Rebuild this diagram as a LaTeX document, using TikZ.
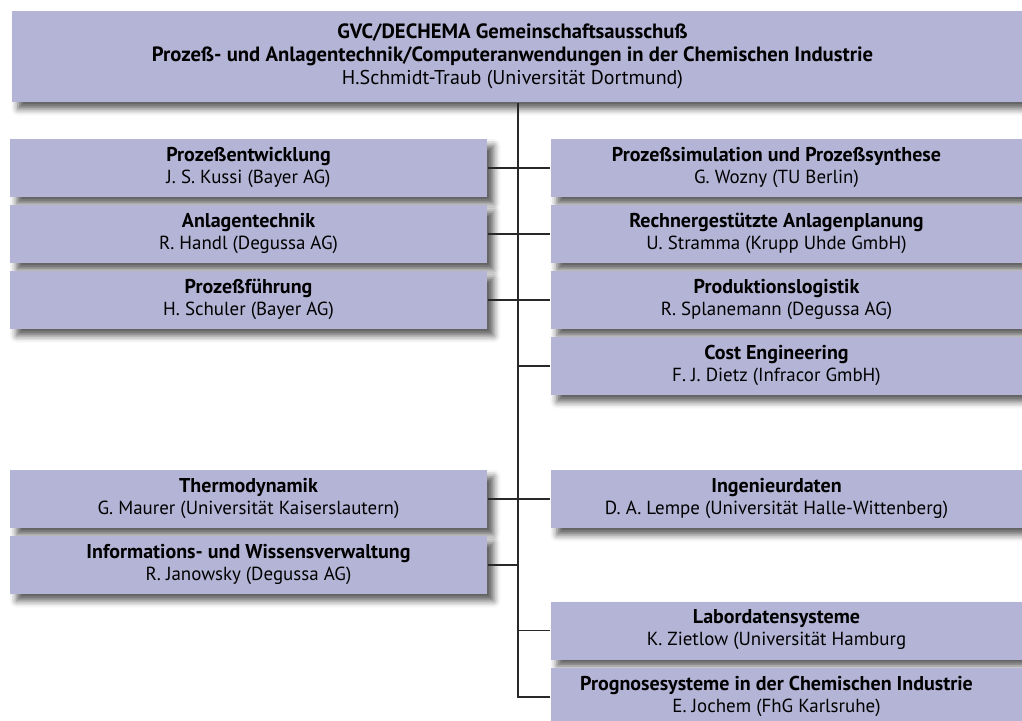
\documentclass[tikz,border=0pt]{standalone}
\usepackage{fontspec}
\setmainfont{PT Sans}
\usetikzlibrary{shadows.blur}

\definecolor{lavender}{RGB}{180,180,214}
\definecolor{spinegray}{RGB}{40,40,40}

% box text: first line bold, second regular; #1 pushes the text to the left
\newcommand{\grp}[3][0pt]{\begin{tabular}{@{}c@{}}{\fontsize{15}{16.5}\selectfont\bfseries #2}\\#3\end{tabular}\hspace*{#1}}

\tikzset{every picture/.style={line width=0.75pt}}
\tikzset{
  box/.style={fill=lavender, inner sep=0pt, minimum height=43.5pt,
    font=\fontsize{14.2}{16.5}\selectfont,
    blur shadow={shadow xshift=5pt, shadow yshift=-5pt, shadow blur radius=5pt, shadow opacity=65}},
  leftbox/.style={box, minimum width=357.75pt},
  rightbox/.style={box, minimum width=360pt, anchor=west},
  topbox/.style={box, minimum width=764.25pt, minimum height=68.25pt, anchor=west,
    font=\fontsize{15}{17.25}\selectfont},
  link/.style={draw=spinegray, line width=1pt}
}

\begin{document}
\begin{tikzpicture}[x=0.75pt,y=0.75pt,yscale=-1,xscale=1]
\useasboundingbox (0,0) rectangle (1022,721);

\node[topbox] (ausschuss) at (11,56.5) {\begin{tabular}{@{}c@{}}{\fontsize{15.5}{17.25}\selectfont\bfseries GVC/DECHEMA Gemeinschaftsausschuß}\\{\fontsize{15.5}{17.25}\selectfont\bfseries Prozeß- und Anlagentechnik/Computeranwendungen in der Chemischen Industrie}\\H.Schmidt-Traub (Universität Dortmund)\end{tabular}\hspace*{12.75pt}};

% left column
\node[leftbox] (entw) at (248.5,168) {\grp{Prozeßentwicklung}{J. S. Kussi (Bayer AG)}};
\node[leftbox] (anlage) at (248.5,234) {\grp{Anlagentechnik}{R. Handl (Degussa AG)}};
\node[leftbox] (fuehr) at (248.5,300) {\grp{Prozeßführung}{H. Schuler (Bayer AG)}};
\node[leftbox] (thermo) at (248.5,499) {\grp{Thermodynamik}{G. Maurer (Universität Kaiserslautern)}};
\node[leftbox] (wissen) at (248.5,565) {\grp{Informations- und Wissensverwaltung}{R. Janowsky (Degussa AG)}};

% right column
\node[rightbox] (simul) at (550,168) {\grp[21pt]{Prozeßsimulation und Prozeßsynthese}{G. Wozny (TU Berlin)}};
\node[rightbox] (planung) at (550,234) {\grp[21pt]{Rechnergestützte Anlagenplanung}{U. Stramma (Krupp Uhde GmbH)}};
\node[rightbox] (logistik) at (550,300) {\grp[21pt]{Produktionslogistik}{R. Splanemann (Degussa AG)}};
\node[rightbox] (cost) at (550,366) {\grp[21pt]{Cost Engineering}{F. J. Dietz (Infracor GmbH)}};
\node[rightbox] (ingdat) at (550,499) {\grp[21pt]{Ingenieurdaten}{D. A. Lempe (Universität Halle-Wittenberg)}};
\node[rightbox] (labor) at (550,630.5) {\grp[21pt]{Labordatensysteme}{K. Zietlow (Universität Hamburg}};
\node[rightbox] (prognose) at (550,697) {\grp[21pt]{Prognosesysteme in der Chemischen Industrie}{E. Jochem (FhG Karlsruhe)}};

\coordinate (spine) at (518,697);

\draw[link] (ausschuss.south -| spine) -- (spine) -- (prognose.west);
\draw[link] (entw.east) -- (simul.west);
\draw[link] (anlage.east) -- (planung.west);
\draw[link] (fuehr.east) -- (logistik.west);
\draw[link] (cost.west -| spine) -- (cost.west);
\draw[link] (thermo.east) -- (ingdat.west);
\draw[link] (wissen.east) -- (wissen.east -| spine);
\draw[link] (labor.west -| spine) -- (labor.west);

\end{tikzpicture}
\end{document}
